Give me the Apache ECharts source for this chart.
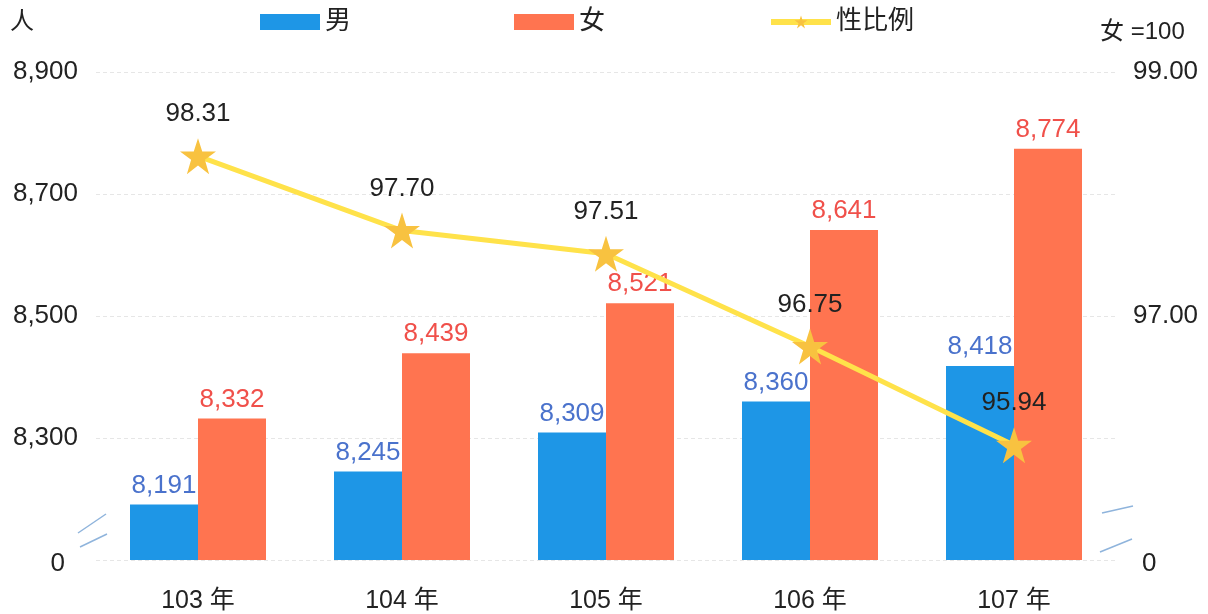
<!DOCTYPE html>
<html><head><meta charset="utf-8">
<script src="https://cdn.jsdelivr.net/npm/echarts@6/dist/echarts.min.js"></script>
<style>html,body{margin:0;padding:0;background:#fff}#c{width:1208px;height:614px}</style>
</head><body><div id="c"></div>
<script>
const categories = ['103 年', '104 年', '105 年', '106 年', '107 年'];
const male = [8191, 8245, 8309, 8360, 8418];
const female = [8332, 8439, 8521, 8641, 8774];
const sexRatio = [98.31, 97.70, 97.51, 96.75, 95.94];
const leftTicks = [8100, 8300, 8500, 8700, 8900];
const rightTicks = [95, 97, 99];

const FONT = '"Liberation Sans", Arial, "Noto Sans CJK TC", sans-serif';
const chart = echarts.init(document.getElementById('c'));
const fmtInt = v => v.toLocaleString('en-US');
chart.setOption({
  animation: false,
  textStyle: { fontFamily: FONT },
  legend: {
    top: 4, left: 255, itemGap: 163, itemWidth: 60, itemHeight: 16,
    textStyle: { fontSize: 26, color: '#222', fontFamily: FONT },
    data: [
      { name: '男', icon: 'rect' },
      { name: '女', icon: 'rect' },
      { name: '性比例', lineStyle: { width: 6 } }
    ]
  },
  grid: { left: 96, right: 92, top: 72, bottom: 53 },
  xAxis: {
    type: 'category', data: categories,
    axisLine: { show: false }, axisTick: { show: false },
    axisLabel: { fontSize: 25, color: '#222', margin: 29 }
  },
  yAxis: [
    {
      type: 'value', min: 8100, max: 8900, interval: 100,
      name: '人', nameLocation: 'end', nameGap: 38,
      nameTextStyle: { fontSize: 24, color: '#222', align: 'right', padding: [0, 62, 0, 0] },
      axisLine: { show: false }, axisTick: { show: false },
      axisLabel: {
        fontSize: 26, color: '#222', margin: 18,
        formatter: v => leftTicks.includes(v) ? (v === leftTicks[0] ? '{z|0}' : fmtInt(v)) : '',
        rich: { z: { fontSize: 26, color: '#222', padding: [8, 13, 0, 0] } }
      },
      splitLine: { show: true, lineStyle: { color: ['#e6e6e6', 'transparent'], type: [4, 3] } }
    },
    {
      type: 'value', min: 95, max: 99, interval: 1,
      name: '女 =100', nameLocation: 'end', nameGap: 28,
      nameTextStyle: { fontSize: 24, color: '#222', align: 'left', padding: [0, 0, 0, -16] },
      axisLine: { show: false }, axisTick: { show: false },
      axisLabel: {
        fontSize: 26, color: '#222', margin: 17,
        formatter: v => rightTicks.includes(v) ? (v === rightTicks[0] ? '{z|0}' : v.toFixed(2)) : '',
        rich: { z: { fontSize: 26, color: '#222', padding: [8, 0, 0, 9] } }
      },
      splitLine: { show: false }
    }
  ],
  series: [
    {
      name: '男', type: 'bar', data: male, barWidth: 68, barGap: '0%',
      itemStyle: { color: '#1E96E6' },
      label: { show: true, position: 'top', distance: 6, fontSize: 26, color: '#4A72CC', formatter: p => fmtInt(p.value) }
    },
    {
      name: '女', type: 'bar', data: female, barWidth: 68,
      itemStyle: { color: '#FF7450' },
      label: { show: true, position: 'top', distance: 6, fontSize: 26, color: '#F0504A', formatter: p => fmtInt(p.value) }
    },
    {
      name: '性比例', type: 'line', yAxisIndex: 1, data: sexRatio, z: 5,
      symbol: 'path://M50,0 L61.8,35.4 L100,35.4 L69.1,57.3 L80.9,95.1 L50,72.4 L19.1,95.1 L30.9,57.3 L0,35.4 L38.2,35.4 Z',
      symbolSize: 36,
      lineStyle: { color: '#FFE24A', width: 5 },
      itemStyle: { color: '#F8C240' },
      label: { show: true, position: 'top', distance: 11, fontSize: 26, color: '#222', formatter: p => p.value.toFixed(2) }
    }
  ],
  graphic: [
    { type: 'line', shape: { x1: 78, y1: 533, x2: 106, y2: 514 }, style: { stroke: '#8FB4DC', lineWidth: 1.5 } },
    { type: 'line', shape: { x1: 80, y1: 547, x2: 107, y2: 534 }, style: { stroke: '#8FB4DC', lineWidth: 1.5 } },
    { type: 'line', shape: { x1: 1102, y1: 513, x2: 1133, y2: 506 }, style: { stroke: '#8FB4DC', lineWidth: 1.5 } },
    { type: 'line', shape: { x1: 1100, y1: 552, x2: 1132, y2: 539 }, style: { stroke: '#8FB4DC', lineWidth: 1.5 } }
  ]
});
</script></body></html>
